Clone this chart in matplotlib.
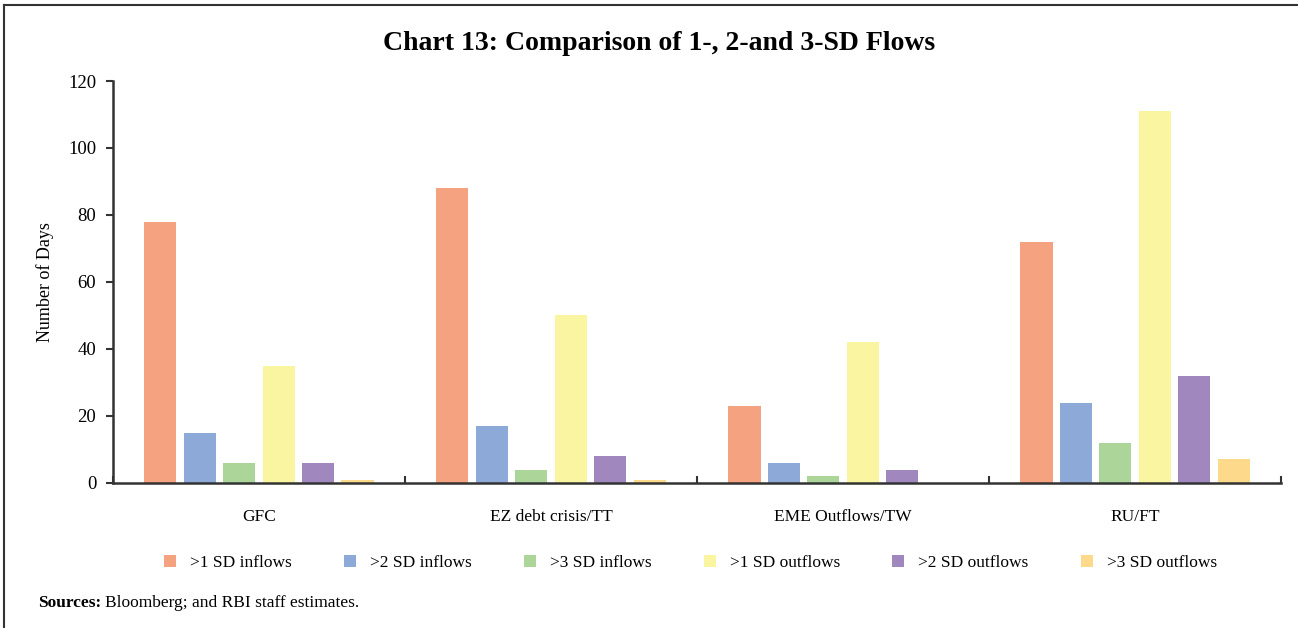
import numpy as np
import matplotlib.pyplot as plt
from matplotlib.lines import Line2D

plt.rcParams['font.family'] = ['Liberation Serif', 'DejaVu Serif']

categories = ['GFC', 'EZ debt crisis/TT', 'EME Outflows/TW', 'RU/FT']
series = ['>1 SD inflows', '>2 SD inflows', '>3 SD inflows',
          '>1 SD outflows', '>2 SD outflows', '>3 SD outflows']
values = [
    [78, 88, 23, 72],   # >1 SD inflows
    [15, 17, 6, 24],    # >2 SD inflows
    [6, 4, 2, 12],      # >3 SD inflows
    [35, 50, 42, 111],  # >1 SD outflows
    [6, 8, 4, 32],      # >2 SD outflows
    [1, 1, 0, 7],       # >3 SD outflows
]
colors = ['#F4A27F', '#8CA9D7', '#ACD59A', '#FAF5A0', '#A088BF', '#FDD98B']

fig = plt.figure(figsize=(12.98, 6.28), dpi=100)
ax = fig.add_axes([0.087, 0.231, 0.900, 0.640])

x = np.arange(len(categories))
step = 0.135
width = 0.11
for i, (name, vals) in enumerate(zip(series, values)):
    offs = (i - 2.5) * step
    ax.bar(x + offs, vals, width, color=colors[i], label=name, zorder=2)

ax.set_xlim(-0.5, len(categories) - 0.5)
ax.set_ylim(0, 120)
ax.set_yticks(np.arange(0, 121, 20))
ax.set_xticks(x)
ax.set_xticklabels(categories, fontsize=12.5)
ax.set_xticks(np.arange(-0.5, len(categories), 1), minor=True)
ax.tick_params(axis='x', which='major', length=0, pad=19)
ax.tick_params(axis='x', which='minor', length=5, width=1.5, color='#333333', direction='in')
ax.tick_params(axis='y', labelsize=13.5, length=5, width=1.5, color='#333333', pad=7)
for s in ['top', 'right']:
    ax.spines[s].set_visible(False)
for s in ['left', 'bottom']:
    ax.spines[s].set_linewidth(1.8)
    ax.spines[s].set_color('#333333')
ax.set_ylabel('Number of Days', fontsize=13, labelpad=10)

fig.text(0.508, 0.931, 'Chart 13: Comparison of 1-, 2-and 3-SD Flows',
         ha='center', va='center', fontsize=20, fontweight='bold')

fig.legend(loc='center', bbox_to_anchor=(0.532, 0.103), ncol=6, frameon=False,
           fontsize=12.5, handlelength=0.7, handleheight=0.7, columnspacing=3.0,
           handletextpad=0.8)

fig.text(0.029, 0.040, 'Sources:', fontsize=12.5, fontweight='bold',
         ha='left', va='center')
fig.text(0.081, 0.040, 'Bloomberg; and RBI staff estimates.', fontsize=12.5,
         ha='left', va='center')

fig.add_artist(Line2D([0.003, 0.003], [0, 0.992], transform=fig.transFigure,
                      color='#333333', lw=1.5))
fig.add_artist(Line2D([0.003, 1.0], [0.992, 0.992], transform=fig.transFigure,
                      color='#333333', lw=1.5))

fig.savefig('out.png', dpi=100)
